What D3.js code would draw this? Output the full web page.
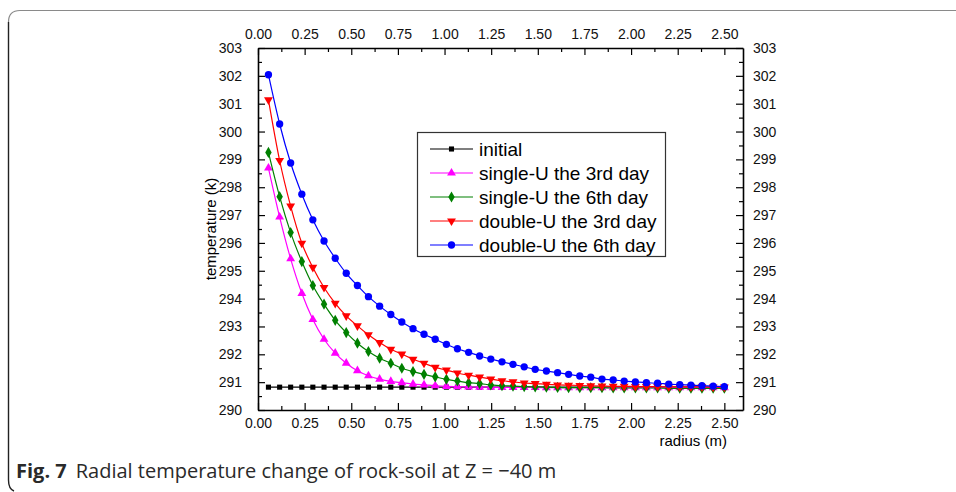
<!DOCTYPE html>
<html>
<head>
<meta charset="utf-8">
<script src="https://cdn.jsdelivr.net/npm/d3@7"></script>
<style>
  body { margin: 0; background: #fff; }
  svg { display: block; }
  .axis text { font-family: "Liberation Sans", Arial, sans-serif; font-size: 14px; fill: #111; }
  .axis path, .axis line { stroke: #000; }
</style>
</head>
<body>
<div id="chart"></div>
<script>
// radius (m) of the sampled nodes
const radius = [0.056, 0.116, 0.175, 0.235, 0.294, 0.354, 0.414, 0.473, 0.533, 0.592,
    0.652, 0.712, 0.771, 0.831, 0.890, 0.950, 1.010, 1.069, 1.129, 1.188,
    1.248, 1.308, 1.367, 1.427, 1.486, 1.546, 1.606, 1.665, 1.725, 1.784,
    1.844, 1.904, 1.963, 2.023, 2.082, 2.142, 2.202, 2.261, 2.321, 2.380,
    2.440, 2.500];

const initialTemp = [290.82, 290.82, 290.82, 290.82, 290.82, 290.82, 290.82, 290.82, 290.82, 290.82,
    290.82, 290.82, 290.82, 290.82, 290.82, 290.82, 290.82, 290.82, 290.82, 290.82,
    290.82, 290.82, 290.82, 290.82, 290.82, 290.82, 290.82, 290.82, 290.82, 290.82,
    290.82, 290.82, 290.82, 290.82, 290.82, 290.82, 290.82, 290.82, 290.82, 290.82,
    290.82, 290.82];

const singleU3 = [298.69, 296.93, 295.43, 294.19, 293.25, 292.54, 292.04, 291.68, 291.41, 291.23,
    291.11, 291.03, 290.98, 290.93, 290.90, 290.87, 290.85, 290.84, 290.83, 290.82,
    290.82, 290.81, 290.81, 290.81, 290.81, 290.80, 290.80, 290.80, 290.80, 290.80,
    290.80, 290.80, 290.80, 290.80, 290.80, 290.80, 290.80, 290.80, 290.80, 290.80,
    290.80, 290.80];

const singleU6 = [299.25, 297.66, 296.37, 295.33, 294.47, 293.80, 293.22, 292.78, 292.40, 292.10,
    291.86, 291.68, 291.50, 291.38, 291.28, 291.19, 291.10, 291.04, 290.98, 290.95,
    290.90, 290.87, 290.86, 290.84, 290.83, 290.82, 290.81, 290.80, 290.80, 290.80,
    290.80, 290.79, 290.79, 290.79, 290.79, 290.79, 290.78, 290.78, 290.78, 290.78,
    290.78, 290.78];

const doubleU3 = [301.14, 298.96, 297.32, 295.99, 295.12, 294.40, 293.83, 293.38, 293.02, 292.70,
    292.42, 292.18, 292.01, 291.82, 291.68, 291.53, 291.43, 291.33, 291.25, 291.18,
    291.11, 291.05, 291.01, 290.97, 290.95, 290.92, 290.90, 290.89, 290.88, 290.87,
    290.86, 290.85, 290.85, 290.84, 290.84, 290.84, 290.83, 290.83, 290.83, 290.83,
    290.82, 290.82];

const doubleU6 = [302.04, 300.27, 298.87, 297.75, 296.83, 296.07, 295.45, 294.91, 294.47, 294.07,
    293.73, 293.43, 293.16, 292.92, 292.72, 292.54, 292.36, 292.20, 292.07, 291.94,
    291.83, 291.73, 291.64, 291.55, 291.46, 291.40, 291.34, 291.28, 291.22, 291.18,
    291.11, 291.08, 291.04, 291.01, 290.98, 290.96, 290.93, 290.91, 290.89, 290.87,
    290.86, 290.84];

const seriesNames = ['initial', 'single-U the 3rd day', 'single-U the 6th day',
    'double-U the 3rd day', 'double-U the 6th day'];
const seriesValues = [initialTemp, singleU3, singleU6, doubleU3, doubleU6];

const xTicks = [0, 0.25, 0.5, 0.75, 1, 1.25, 1.5, 1.75, 2, 2.25, 2.5];
const xMinorTicks = [0.125, 0.375, 0.625, 0.875, 1.125, 1.375, 1.625, 1.875, 2.125, 2.375];
const yTicks = [290, 291, 292, 293, 294, 295, 296, 297, 298, 299, 300, 301, 302, 303];
const yMinorTicks = [290.5, 291.5, 292.5, 293.5, 294.5, 295.5, 296.5, 297.5, 298.5, 299.5,
    300.5, 301.5, 302.5];

const W = 956, H = 492;
const plot = { left: 258, right: 743, top: 48, bottom: 410 };
const colors = ['#000000', '#ff00ff', '#008000', '#ff0000', '#0000ff'];
const symbols = [d3.symbolSquare, d3.symbolTriangle, d3.symbolDiamond, 'down', d3.symbolCircle];
const symbolSizes = [26, 34, 36, 34, 42];

const svg = d3.select('#chart').append('svg')
    .attr('width', W)
    .attr('height', H);

// outer caption frame (top + left edges, rounded)
svg.append('path')
    .attr('d', 'M956,10.5 H20 Q8.5,10.5 8.5,22')
    .attr('fill', 'none')
    .attr('stroke', '#8a8a8a')
    .attr('stroke-width', 1.2);
svg.append('path')
    .attr('d', 'M8.5,22 V480 Q8.5,489 14,491')
    .attr('fill', 'none')
    .attr('stroke', '#222')
    .attr('stroke-width', 1.4);

const x = d3.scaleLinear().domain([0, 2.6]).range([plot.left, plot.right]);
const y = d3.scaleLinear().domain([290, 303]).range([plot.bottom, plot.top]);

const fmtX = d3.format('.2f');
const fmtY = d3.format('d');

// axes: ticks point inward
svg.append('g').attr('class', 'axis')
    .attr('transform', `translate(0,${plot.bottom})`)
    .call(d3.axisBottom(x).tickValues(xTicks).tickFormat(fmtX).tickSizeInner(-7).tickSizeOuter(0).tickPadding(8));
svg.append('g').attr('class', 'axis')
    .attr('transform', `translate(0,${plot.bottom})`)
    .call(d3.axisBottom(x).tickValues(xMinorTicks).tickFormat('').tickSizeInner(-4).tickSizeOuter(0))
    .call(g => g.select('.domain').remove());

svg.append('g').attr('class', 'axis')
    .attr('transform', `translate(0,${plot.top})`)
    .call(d3.axisTop(x).tickValues(xTicks).tickFormat(fmtX).tickSizeInner(-7).tickSizeOuter(0).tickPadding(9));
svg.append('g').attr('class', 'axis')
    .attr('transform', `translate(0,${plot.top})`)
    .call(d3.axisTop(x).tickValues(xMinorTicks).tickFormat('').tickSizeInner(-4).tickSizeOuter(0))
    .call(g => g.select('.domain').remove());

svg.append('g').attr('class', 'axis')
    .attr('transform', `translate(${plot.left},0)`)
    .call(d3.axisLeft(y).tickValues(yTicks).tickFormat(fmtY).tickSizeInner(-7).tickSizeOuter(0).tickPadding(16));
svg.append('g').attr('class', 'axis')
    .attr('transform', `translate(${plot.left},0)`)
    .call(d3.axisLeft(y).tickValues(yMinorTicks).tickFormat('').tickSizeInner(-4).tickSizeOuter(0))
    .call(g => g.select('.domain').remove());

svg.append('g').attr('class', 'axis')
    .attr('transform', `translate(${plot.right},0)`)
    .call(d3.axisRight(y).tickValues(yTicks).tickFormat(fmtY).tickSizeInner(-7).tickSizeOuter(0).tickPadding(10));
svg.append('g').attr('class', 'axis')
    .attr('transform', `translate(${plot.right},0)`)
    .call(d3.axisRight(y).tickValues(yMinorTicks).tickFormat('').tickSizeInner(-4).tickSizeOuter(0))
    .call(g => g.select('.domain').remove());

svg.selectAll('.axis .domain').attr('stroke-width', 1.6);
svg.selectAll('.axis .tick line').attr('stroke-width', 1.2);

// axis titles
svg.append('text')
    .attr('transform', `translate(216,${(plot.top + plot.bottom) / 2}) rotate(-90)`)
    .attr('text-anchor', 'middle')
    .style('font-family', '"Liberation Sans", Arial, sans-serif')
    .style('font-size', '15px')
    .text('temperature (k)');

svg.append('text')
    .attr('x', 727)
    .attr('y', 446)
    .attr('text-anchor', 'end')
    .style('font-family', '"Liberation Sans", Arial, sans-serif')
    .style('font-size', '15px')
    .text('radius (m)');

function markerPath(sym, size) {
    if (sym === 'down') {
        return d3.symbol().type(d3.symbolTriangle).size(size)();
    }
    return d3.symbol().type(sym).size(size)();
}

const line = d3.line()
    .x((d, i) => x(radius[i]))
    .y(d => y(d))
    .curve(d3.curveMonotoneX);

seriesValues.forEach((vals, s) => {
    svg.append('path')
        .datum(vals)
        .attr('fill', 'none')
        .attr('stroke', colors[s])
        .attr('stroke-width', 1.2)
        .attr('d', line);

    svg.append('g')
        .selectAll('path')
        .data(vals)
        .join('path')
        .attr('d', markerPath(symbols[s], symbolSizes[s]))
        .attr('transform', (d, i) => `translate(${x(radius[i])},${y(d)})` + (symbols[s] === 'down' ? ' rotate(180)' : ''))
        .attr('fill', colors[s]);
});

// legend
const legend = svg.append('g').attr('transform', 'translate(417,132)');
legend.append('rect')
    .attr('x', 0.5).attr('y', 0.5)
    .attr('width', 248).attr('height', 124)
    .attr('fill', '#fff')
    .attr('stroke', '#333')
    .attr('stroke-width', 1.2);

seriesNames.forEach((name, s) => {
    const row = legend.append('g').attr('transform', `translate(0,${17 + s * 24})`);
    row.append('line')
        .attr('x1', 13).attr('x2', 56)
        .attr('y1', 0).attr('y2', 0)
        .attr('stroke', colors[s])
        .attr('stroke-width', 1.2);
    row.append('path')
        .attr('d', markerPath(symbols[s], symbolSizes[s]))
        .attr('transform', 'translate(34.5,0)' + (symbols[s] === 'down' ? ' rotate(180)' : ''))
        .attr('fill', colors[s]);
    row.append('text')
        .attr('x', 62)
        .attr('y', 7)
        .style('font-family', '"Liberation Sans", Arial, sans-serif')
        .style('font-size', '19px')
        .text(name);
});

// caption
const caption = svg.append('text')
    .attr('x', 16)
    .attr('y', 478)
    .style('font-family', '"Open Sans", "Noto Sans", sans-serif')
    .style('font-size', '20px')
    .attr('fill', '#2a2a2a');
caption.append('tspan').style('font-weight', 'bold').text('Fig. 7');
caption.append('tspan').attr('dx', 9).text('Radial temperature change of rock-soil at Z = \u221240 m');
</script>
</body>
</html>
